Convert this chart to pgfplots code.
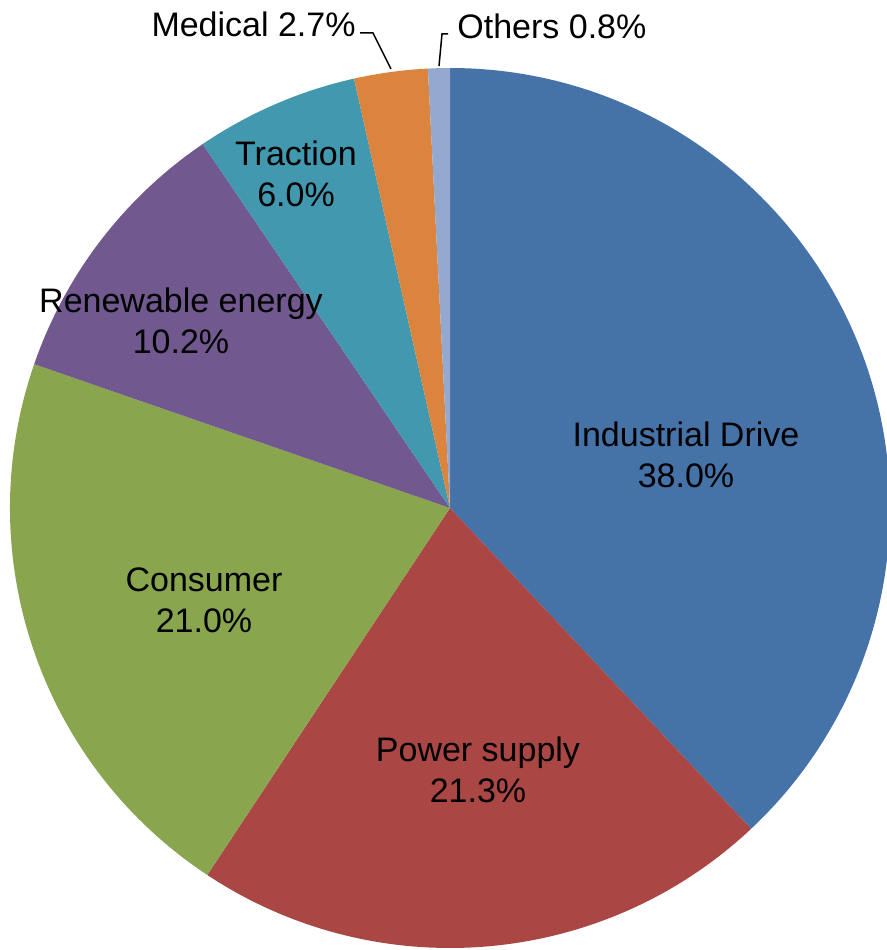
\documentclass[border=0pt]{standalone}
\usepackage{pgfplots}
\pgfplotsset{compat=1.18}
\usepackage{fontspec}
\setmainfont{Liberation Sans}

\definecolor{cInd}{HTML}{4572A7}
\definecolor{cPow}{HTML}{AA4643}
\definecolor{cCon}{HTML}{89A54E}
\definecolor{cRen}{HTML}{71588F}
\definecolor{cTra}{HTML}{4198AF}
\definecolor{cMed}{HTML}{DB843D}
\definecolor{cOth}{HTML}{93A9CF}

% shares in percent
\def\vInd{38.0}\def\vPow{21.3}\def\vCon{21.0}\def\vRen{10.2}
\def\vTra{6.0}\def\vMed{2.7}\def\vOth{0.8}

\begin{document}
\begin{tikzpicture}[lbl/.style={font=\fontsize{17}{20.5}\selectfont, align=center, inner sep=0pt}]
% cumulative angles, clockwise from the top
\pgfmathsetmacro\aA{90-3.6*\vInd}
\pgfmathsetmacro\aB{\aA-3.6*\vPow}
\pgfmathsetmacro\aC{\aB-3.6*\vCon}
\pgfmathsetmacro\aD{\aC-3.6*\vRen}
\pgfmathsetmacro\aE{\aD-3.6*\vTra}
\pgfmathsetmacro\aF{\aE-3.6*\vMed}
\pgfmathsetmacro\aG{\aF-3.6*\vOth}
\def\R{220pt}
\begin{axis}[
  scale only axis, width=443.5pt, height=475pt,
  xmin=0, xmax=887, ymin=0, ymax=950,
  hide axis, clip=false,
]
\fill[cInd] (axis cs:450,442) -- ++(90:\R) arc[start angle=90, end angle=\aA, radius=\R] -- cycle;
\fill[cPow] (axis cs:450,442) -- ++(\aA:\R) arc[start angle=\aA, end angle=\aB, radius=\R] -- cycle;
\fill[cCon] (axis cs:450,442) -- ++(\aB:\R) arc[start angle=\aB, end angle=\aC, radius=\R] -- cycle;
\fill[cRen] (axis cs:450,442) -- ++(\aC:\R) arc[start angle=\aC, end angle=\aD, radius=\R] -- cycle;
\fill[cTra] (axis cs:450,442) -- ++(\aD:\R) arc[start angle=\aD, end angle=\aE, radius=\R] -- cycle;
\fill[cMed] (axis cs:450,442) -- ++(\aE:\R) arc[start angle=\aE, end angle=\aF, radius=\R] -- cycle;
\fill[cOth] (axis cs:450,442) -- ++(\aF:\R) arc[start angle=\aF, end angle=\aG, radius=\R] -- cycle;

\node[lbl] at (axis cs:686,495) {Industrial Drive\\38.0\%};
\node[lbl] at (axis cs:478,180) {Power supply\\21.3\%};
\node[lbl] at (axis cs:204,350) {Consumer\\21.0\%};
\node[lbl] at (axis cs:181,629) {Renewable energy\\10.2\%};
\node[lbl] at (axis cs:296,776) {Traction\\6.0\%};
\node[lbl, anchor=east] at (axis cs:356,926) {Medical 2.7\%};
\node[lbl, anchor=west] at (axis cs:457,924) {Others 0.8\%};
\draw[line width=0.75pt] (axis cs:360,917) -- (axis cs:373,917) -- (axis cs:391,881);
\draw[line width=0.75pt] (axis cs:448,916) -- (axis cs:442,916) -- (axis cs:439,884);
\end{axis}
\pgfresetboundingbox
\path (0,0) rectangle (443.5pt,475pt);
\end{tikzpicture}
\end{document}
